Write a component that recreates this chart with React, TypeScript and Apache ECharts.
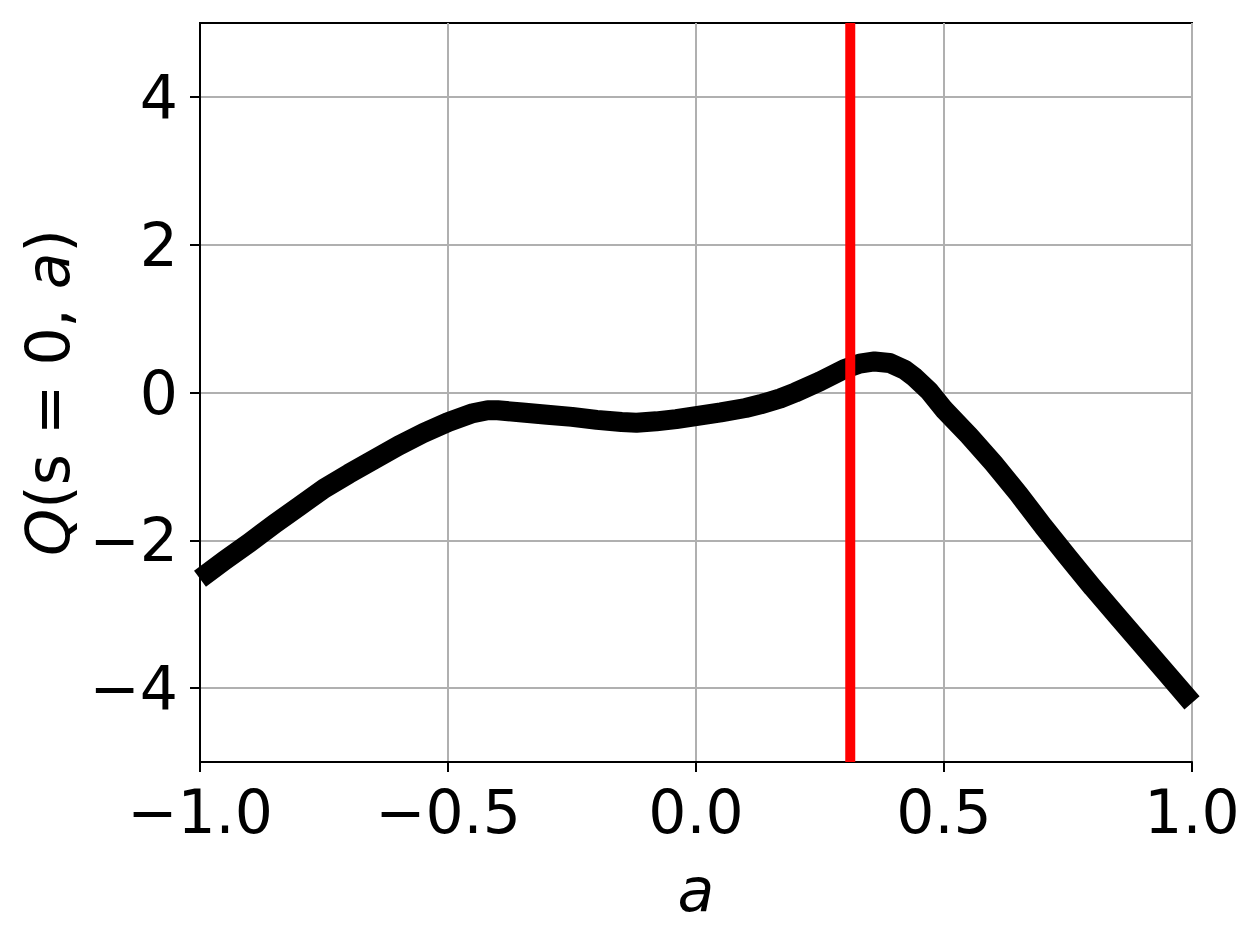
import React, { useEffect, useRef } from "react";
import * as echarts from "echarts";

const actionValues = [
  -1.0, -0.95, -0.9, -0.85, -0.8, -0.75, -0.7, -0.65, -0.6, -0.55, -0.5, -0.45, -0.42, -0.4,
  -0.35, -0.3, -0.25, -0.2, -0.15, -0.12, -0.08, -0.04, 0.0, 0.05, 0.1, 0.13, 0.17, 0.2,
  0.25, 0.3, 0.33, 0.36, 0.39, 0.42, 0.44, 0.47, 0.5, 0.55, 0.6, 0.65, 0.7, 0.75, 0.8,
  0.85, 0.9, 0.95, 1.0,
];
const qValues = [
  -2.52, -2.27, -2.03, -1.78, -1.54, -1.3, -1.1, -0.91, -0.72, -0.55, -0.4, -0.28, -0.24, -0.24,
  -0.27, -0.3, -0.33, -0.37, -0.4, -0.41, -0.39, -0.36, -0.32, -0.27, -0.21, -0.16, -0.08, 0.0,
  0.15, 0.32, 0.39, 0.42, 0.4, 0.31, 0.21, 0.02, -0.23, -0.58, -0.96, -1.37, -1.81, -2.23, -2.64,
  -3.03, -3.42, -3.81, -4.2,
];
const bestAction = 0.311;
const xTicks = [-1.0, -0.5, 0.0, 0.5, 1.0];
const yTicks = [-4, -2, 0, 2, 4];
const xRange = [-1, 1];
const yRange = [-5, 5];

const FONT = "DejaVu Sans";
const fmt = (v: number, digits: number) =>
  (v < 0 ? "\u2212" : "") + Math.abs(v).toFixed(digits);

export default function App() {
  const ref = useRef<HTMLDivElement>(null);
  useEffect(() => {
    if (!ref.current) return;
    const chart = echarts.init(ref.current, null, { renderer: "svg" });
    const curve = actionValues.map((a, i) => [a, qValues[i]]);
    chart.setOption({
      animation: false,
      backgroundColor: "#ffffff",
      grid: {
        left: 200,
        top: 23,
        right: 68,
        bottom: 169,
        show: true,
        borderColor: "#000000",
        borderWidth: 2,
        backgroundColor: "transparent",
      },
      xAxis: {
        type: "value",
        min: xRange[0],
        max: xRange[1],
        interval: 0.5,
        name: "a",
        nameLocation: "middle",
        nameGap: 98,
        nameTextStyle: {
          fontFamily: FONT,
          fontSize: 60,
          fontStyle: "italic",
          color: "#000",
        },
        axisLine: { show: true, onZero: false, lineStyle: { color: "#000", width: 2 } },
        axisTick: {
          show: true,
          inside: false,
          length: 10,
          customValues: xTicks,
          lineStyle: { color: "#000", width: 2 },
        },
        axisLabel: {
          show: true,
          margin: 20,
          customValues: xTicks,
          fontFamily: FONT,
          fontSize: 60,
          color: "#000",
          formatter: (v: number) => fmt(v, 1),
        },
        splitLine: { show: true, lineStyle: { color: "#b0b0b0", width: 2 } },
      },
      yAxis: {
        type: "value",
        min: yRange[0],
        max: yRange[1],
        name: "{i|Q}(s = 0, {i|a})",
        nameLocation: "middle",
        nameRotate: 90,
        nameGap: 122,
        nameTextStyle: {
          fontFamily: FONT,
          fontSize: 60,
          color: "#000",
          rich: {
            i: { fontFamily: FONT, fontSize: 60, fontStyle: "italic", color: "#000" },
          },
        },
        axisLine: { show: true, onZero: false, lineStyle: { color: "#000", width: 2 } },
        axisTick: {
          show: true,
          inside: false,
          length: 10,
          customValues: yTicks,
          lineStyle: { color: "#000", width: 2 },
        },
        axisLabel: {
          show: true,
          margin: 22,
          customValues: yTicks,
          fontFamily: FONT,
          fontSize: 60,
          color: "#000",
          formatter: (v: number) => fmt(v, 0),
        },
        splitLine: { show: true, lineStyle: { color: "#b0b0b0", width: 2 } },
      },
      series: [
        {
          type: "line",
          data: curve,
          showSymbol: false,
          symbol: "none",
          smooth: false,
          clip: true,
          lineStyle: { color: "#000000", width: 20, cap: "butt", join: "round" },
          z: 3,
        },
        {
          type: "line",
          data: [
            [bestAction, yRange[0]],
            [bestAction, yRange[1]],
          ],
          showSymbol: false,
          symbol: "none",
          clip: true,
          lineStyle: { color: "#ff0000", width: 10, cap: "butt" },
          z: 4,
        },
      ],
    });
    return () => chart.dispose();
  }, []);
  return (
    <div
      ref={ref}
      style={{ position: "absolute", left: 0, top: 0, width: 1260, height: 931 }}
    />
  );
}
